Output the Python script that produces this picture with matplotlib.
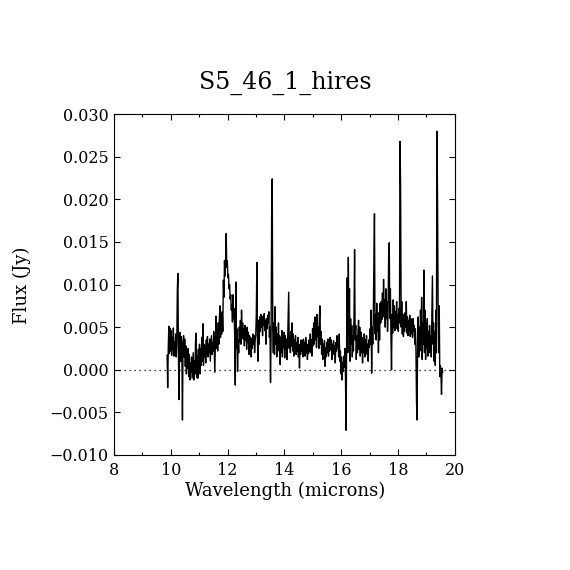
import numpy as np
import matplotlib
matplotlib.use('Agg')
import matplotlib.pyplot as plt
from matplotlib.ticker import MultipleLocator

# ---------------- spectrum (wavelength in microns, flux in mJy) ----------------
wave_a = [9.87, 9.89, 9.91, 9.93, 9.95, 9.97, 9.99, 10.01, 10.03, 10.05, 10.07, 10.09, 10.11, 10.13,
          10.15, 10.17, 10.19, 10.21, 10.23, 10.25, 10.27, 10.29, 10.31, 10.33, 10.35, 10.37, 10.39,
          10.41, 10.43, 10.45, 10.47, 10.49, 10.51, 10.53, 10.55, 10.57, 10.59, 10.61, 10.63, 10.65,
          10.67, 10.69, 10.71, 10.73, 10.75, 10.77, 10.79, 10.81, 10.83, 10.85, 10.87, 10.89, 10.91,
          10.93, 10.95, 10.97, 10.99, 11.01, 11.03, 11.05, 11.07, 11.09, 11.11, 11.13, 11.15, 11.17,
          11.19, 11.21, 11.23, 11.25]
flux_a = [1.7, -2.1, 2.5, 5.1, 1.9, 4.9, 2.2, 4.6, 1.7, 3.8, 2.4, 4.9, 1.6, 3.3,
          2.0, 4.2, 1.5, 3.0, 9.5, 11.3, 1.2, -3.5, 2.8, 4.4, 1.0, 3.9, 2.0,
          -5.9, 3.2, 4.0, 1.5, 3.6, 0.4, 2.8, -0.5, 2.0, 0.2, 2.5, -0.8, 1.8,
          -1.2, 0.8, -0.3, 1.5, -1.0, 0.5, 2.0, -1.2, 1.0, -0.5, 3.3, 4.3, -0.9,
          1.6, -1.0, 2.4, 0.0, 3.0, -0.5, 2.5, 0.5, 3.8, 1.0, 5.4, 0.5, 3.0,
          1.5, 2.8, 0.8, 3.5]

wave_b = [11.27, 11.29, 11.31, 11.33, 11.35, 11.37, 11.39, 11.41, 11.43, 11.45, 11.47, 11.49, 11.51,
          11.53, 11.55, 11.57, 11.59, 11.61, 11.63, 11.65, 11.67, 11.69, 11.71, 11.73, 11.75, 11.77,
          11.79, 11.81, 11.83, 11.85, 11.87, 11.89, 11.91, 11.93, 11.95, 11.97, 11.99, 12.01, 12.03,
          12.05, 12.07, 12.09, 12.11, 12.13, 12.15, 12.17, 12.19, 12.21, 12.23, 12.25, 12.27, 12.29,
          12.31, 12.33, 12.35, 12.37, 12.39, 12.41, 12.43, 12.45, 12.47, 12.49, 12.51, 12.53, 12.55,
          12.57, 12.59, 12.61, 12.63, 12.65, 12.67, 12.69, 12.71, 12.73, 12.75, 12.77, 12.79, 12.81,
          12.83, 12.85, 12.87, 12.89, 12.91, 12.93, 12.95, 12.97, 12.99, 13.01, 13.03, 13.05, 13.07]
flux_b = [1.8, 3.9, 1.5, 3.0, 2.0, 3.6, 1.0, 2.6, 4.0, 1.8, 3.2, 2.2, 4.5,
          2.0, -0.3, 3.5, 6.3, 2.5, 4.8, 2.2, 5.5, 3.0, 6.0, 7.5, 3.8, 6.5,
          4.2, 6.8, 4.5, 10.5, 8.5, 12.8, 11.0, 13.2, 16.0, 12.0, 12.8, 10.8, 11.2,
          9.5, 10.0, 8.3, 8.8, 7.0, 7.6, 5.6, 8.8, 6.0, 7.2, 3.5, -1.8, 10.3,
          2.5, 4.8, -0.2, 3.5, 2.0, 5.0, 3.2, 5.8, 3.0, 7.0, 4.0, 5.5, 3.6,
          4.8, 2.8, 5.2, 3.5, 4.5, 2.4, 5.0, 3.2, 4.4, 1.8, 4.0, 2.8, 3.8,
          1.5, 3.6, 2.5, 4.2, 3.0, 4.0, 2.0, 3.5, 4.0, 6.5, 12.6, 3.5, 1.0]

wave_c = [13.09, 13.11, 13.13, 13.15, 13.17, 13.19, 13.21, 13.23, 13.25, 13.27, 13.29, 13.31, 13.33,
          13.35, 13.37, 13.39, 13.41, 13.43, 13.45, 13.47, 13.49, 13.51, 13.53, 13.55, 13.57, 13.59,
          13.61, 13.63, 13.65, 13.67, 13.69, 13.71, 13.73, 13.75, 13.77, 13.79, 13.81, 13.83, 13.85,
          13.87, 13.89, 13.91, 13.93, 13.95, 13.97, 13.99, 14.01, 14.03, 14.05, 14.07, 14.09, 14.11,
          14.13, 14.15, 14.17, 14.19]
flux_c = [5.8, 3.0, 6.2, 4.5, 6.5, 5.0, 6.0, 4.0, 6.3, 5.2, 6.6, 4.6, 5.8,
          3.0, 6.0, 4.8, 6.4, 5.5, 6.8, 3.8, 5.0, -1.5, 4.0, 18.0, 22.4, 4.5,
          2.0, 5.5, 1.8, 7.4, 3.0, 5.0, 1.5, 4.2, 2.5, 5.5, 2.2, 4.0, 0.6,
          3.8, 2.0, 4.6, 1.5, 3.8, 2.6, 4.4, 1.4, 4.0, 2.4, 3.6, 1.2, 3.0,
          5.8, 9.1, 2.5, 4.0]

wave_d = [14.21, 14.23, 14.25, 14.27, 14.29, 14.31, 14.33, 14.35, 14.37, 14.39, 14.41, 14.43, 14.45,
          14.47, 14.49, 14.51, 14.53, 14.55, 14.57, 14.59, 14.61, 14.63, 14.65, 14.67, 14.69, 14.71,
          14.73, 14.75, 14.77, 14.79, 14.81, 14.83, 14.85, 14.87, 14.89, 14.91, 14.93, 14.95, 14.97,
          14.99, 15.01, 15.03, 15.05, 15.07, 15.09, 15.11, 15.13, 15.15, 15.17, 15.19, 15.21, 15.23,
          15.25, 15.27, 15.29, 15.31, 15.33, 15.35, 15.37, 15.39, 15.41, 15.43, 15.45, 15.47, 15.49,
          15.51, 15.53, 15.55, 15.57, 15.59, 15.61, 15.63, 15.65, 15.67, 15.69, 15.71, 15.73, 15.75,
          15.77, 15.79, 15.81, 15.83, 15.85, 15.87, 15.89, 15.91, 15.93, 15.95, 15.97, 15.99, 16.01,
          16.03, 16.05, 16.07, 16.09, 16.11, 16.13, 16.15]
flux_d = [2.0, 4.5, 2.8, 5.5, 2.2, 4.2, 1.6, 3.5, 2.6, 4.0, 1.8, 3.2, 2.2,
          3.8, 1.5, 2.8, 0.2, 3.0, 1.8, 3.5, 2.2, 3.4, 1.5, 3.6, 2.4, 3.2,
          1.6, 3.8, 2.0, 3.0, 1.2, 2.8, 1.9, 3.5, 2.2, 4.2, 2.0, 3.5, 1.6,
          4.8, 2.8, 5.5, 3.0, 6.2, 3.5, 5.8, 2.6, 6.5, 3.9, 5.0, 2.5, 6.0,
          7.5, 3.0, 4.5, 1.8, 3.6, 1.2, 3.0, 2.0, 3.4, 0.4, 2.6, 1.5, 3.2,
          2.0, 3.6, 1.6, 3.0, 2.2, 3.8, 2.4, 3.5, 1.2, 3.0, 2.0, 3.4, 1.8,
          2.8, 0.8, 3.2, 2.2, 4.0, 2.6, 3.0, 1.5, 4.2, 1.0, 2.2, -0.5, 1.5,
          -1.2, 0.8, -0.2, 1.6, 0.3, 2.5, -1.0]

wave_e = [16.17, 16.19, 16.21, 16.23, 16.25, 16.27, 16.29, 16.31, 16.33, 16.35, 16.37, 16.39, 16.41,
          16.43, 16.45, 16.47, 16.49, 16.51, 16.53, 16.55, 16.57, 16.59, 16.61, 16.63, 16.65, 16.67,
          16.69, 16.71, 16.73, 16.75, 16.77, 16.79, 16.81, 16.83, 16.85, 16.87, 16.89, 16.91, 16.93,
          16.95, 16.97, 16.99, 17.01, 17.03, 17.05, 17.07, 17.09, 17.11, 17.13, 17.15, 17.17, 17.19,
          17.21, 17.23, 17.25, 17.27, 17.29, 17.31]
flux_e = [-7.1, 3.5, 10.8, 2.0, 13.2, 4.0, 9.5, 1.0, 6.0, 3.0, 5.2, 1.5, 4.0,
          2.2, 6.5, 14.1, 3.5, 5.2, 1.2, 4.0, 2.0, 4.5, 5.8, 2.4, 5.0, 1.6,
          4.4, 2.0, 3.8, 0.8, 3.2, 2.0, 4.2, 1.5, 3.5, 2.4, 4.0, 1.8, 3.0,
          1.0, 3.5, 2.6, 4.8, 3.0, 7.0, -0.4, 5.0, 3.0, 6.2, 13.0, 18.3, 4.2,
          6.5, 3.5, 7.8, 4.5, 6.0, 2.0]

wave_f = [17.33, 17.35, 17.37, 17.39, 17.41, 17.43, 17.45, 17.47, 17.49, 17.51, 17.53, 17.55, 17.57,
          17.59, 17.61, 17.63, 17.65, 17.67, 17.69, 17.71, 17.73, 17.75, 17.77, 17.79, 17.81, 17.83,
          17.85, 17.87, 17.89, 17.91, 17.93, 17.95, 17.97, 17.99, 18.01, 18.03, 18.05, 18.07, 18.09,
          18.11, 18.13, 18.15, 18.17, 18.19, 18.21, 18.23, 18.25, 18.27, 18.29, 18.31, 18.33, 18.35,
          18.37, 18.39, 18.41, 18.43, 18.45, 18.47, 18.49, 18.51, 18.53, 18.55, 18.57, 18.59, 18.61,
          18.63, 18.65, 18.67, 18.69, 18.71, 18.73, 18.75, 18.77, 18.79, 18.81, 18.83, 18.85, 18.87,
          18.89, 18.91, 18.93, 18.95, 18.97, 18.99, 19.01, 19.03, 19.05, 19.07, 19.09, 19.11, 19.13,
          19.15, 19.17, 19.19, 19.21, 19.23, 19.25, 19.27, 19.29, 19.31, 19.33, 19.35, 19.37, 19.39,
          19.41, 19.43, 19.45, 19.47, 19.49, 19.51, 19.53, 19.55, 19.57]
flux_f = [6.7, 3.5, 7.8, 5.5, 8.0, 5.9, 9.0, 6.2, 10.6, 6.5, 8.2, 5.0, 9.5,
          6.0, 8.0, 4.5, 7.0, 13.5, 14.9, 6.0, 9.5, 4.0, 0.0, 6.5, 4.3, 8.2,
          5.0, 7.5, 4.6, 6.8, 5.2, 8.0, 4.8, 6.5, 4.5, 7.2, 5.5, 26.8, 21.2,
          5.0, 8.0, 4.2, 6.5, 3.9, 6.0, 4.5, 6.7, 5.0, 8.0, 4.3, 6.2, 4.0,
          5.8, 4.6, 6.4, 3.9, 6.0, 4.2, 5.5, 3.8, 6.0, 4.5, 5.2, 3.0, 4.8,
          2.5, -3.8, -5.9, 4.0, 6.2, 1.5, 5.0, 2.2, 7.0, 3.0, 8.5, 1.2, 5.5,
          3.0, 11.7, 2.0, 7.0, 1.2, 5.5, 2.5, 6.0, 1.6, 4.5, 2.0, 5.2, 2.4,
          4.0, 1.5, 6.0, 11.0, 3.0, 5.5, 1.0, 4.5, 0.5, 7.0, 2.0, 28.0, 20.0,
          7.8, 2.0, 7.5, -0.8, 0.5, -0.5, -2.9, 0.2, -0.3]

wave = wave_a + wave_b + wave_c + wave_d + wave_e + wave_f
flux = np.array(flux_a + flux_b + flux_c + flux_d + flux_e + flux_f) / 1000.0  # mJy -> Jy

x_ticks = [8, 10, 12, 14, 16, 18, 20]
y_ticks = [-0.010, -0.005, 0.000, 0.005, 0.010, 0.015, 0.020, 0.025, 0.030]
y_labels = ['\u22120.010', '\u22120.005', '0.000', '0.005', '0.010', '0.015', '0.020', '0.025', '0.030']

# ---------------- figure ----------------
plt.rcParams['font.family'] = ['DejaVu Serif']
fig = plt.figure(figsize=(5.7, 5.7), dpi=100)
ax = fig.add_axes([0.2, 0.2018, 0.598, 0.598])

ax.plot(wave, flux, color='black', linewidth=1.0)
ax.axhline(0.0, color='black', linestyle=(0, (1, 3)), linewidth=0.9)

ax.set_xlim(8, 20)
ax.set_ylim(-0.010, 0.030)
ax.set_xticks(x_ticks)
ax.set_xticklabels([str(t) for t in x_ticks])
ax.xaxis.set_minor_locator(MultipleLocator(1))
ax.set_yticks(y_ticks)
ax.set_yticklabels(y_labels)

ax.tick_params(which='both', direction='in', top=True, right=True, width=0.8, labelsize=11.5)
ax.tick_params(which='major', length=4)
ax.tick_params(which='minor', length=2)
ax.tick_params(axis='x', pad=5)
ax.tick_params(axis='y', pad=4)
for s in ax.spines.values():
    s.set_linewidth(0.8)

fig.text(285 / 570, 1 - 83 / 570, 'S5_46_1_hires', ha='center', va='center', fontsize=17)
fig.text(285 / 570, 1 - 491 / 570, 'Wavelength (microns)', ha='center', va='center', fontsize=13)
fig.text(22 / 570, 1 - 285 / 570, 'Flux (Jy)', ha='center', va='center', rotation=90, fontsize=13)

fig.savefig('out.png', dpi=100)
